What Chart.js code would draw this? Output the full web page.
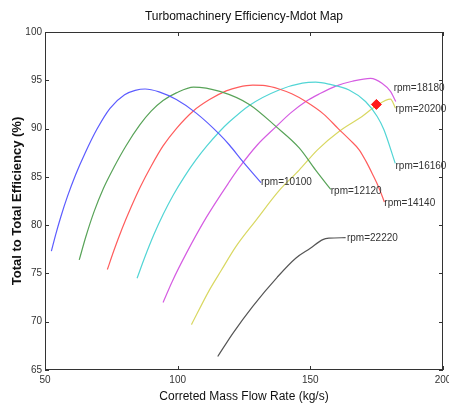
<!DOCTYPE html>
<html>
<head>
<meta charset="utf-8">
<script src="https://cdn.jsdelivr.net/npm/chart.js@4/dist/chart.umd.min.js"></script>
<style>
  html, body { margin: 0; padding: 0; background: #fff; }
  #wrap { width: 449px; height: 407px; }
</style>
</head>
<body>
<div id="wrap"><canvas id="c" width="449" height="407"></canvas></div>
<script>
// ---- data ----
const titleText = 'Turbomachinery Efficiency-Mdot Map';
const xTitle = 'Correted Mass Flow Rate (kg/s)';
const yTitle = 'Total to Total Efficiency (%)';

const xTicks = [50, 100, 150, 200];
const yTicks = [65, 70, 75, 80, 85, 90, 95, 100];

const speedLabels = ['rpm=10100', 'rpm=12120', 'rpm=14140', 'rpm=16160', 'rpm=18180', 'rpm=20200', 'rpm=22220'];

const mdot10100 = [52.4, 54.0, 56.0, 58.5, 61.5, 65.0, 69.5, 74.5, 80.0, 84.0, 87.7, 93.0, 99.5, 107.0, 115.8, 119.5, 124.5, 131.4];
const eff10100  = [77.3, 79.0, 80.9, 83.0, 85.2, 87.4, 89.9, 92.1, 93.5, 93.95, 94.1, 93.8, 93.0, 91.6, 89.4, 88.3, 86.6, 84.4];

const mdot12120 = [62.9, 65.5, 68.5, 72.0, 76.0, 80.5, 85.8, 90.0, 94.5, 99.5, 106.0, 115.9, 127.0, 137.1, 145.8, 152.0, 157.7];
const eff12120  = [76.4, 78.9, 81.4, 83.8, 86.0, 88.2, 90.4, 91.8, 92.9, 93.7, 94.3, 93.85, 92.5, 90.2, 88.0, 85.7, 83.7];

const mdot14140 = [73.5, 76.0, 79.0, 82.5, 86.0, 90.0, 94.5, 99.5, 105.8, 112.0, 118.3, 123.0, 128.3, 133.0, 138.2, 143.0, 148.3, 155.0, 160.5, 165.0, 168.4, 171.0, 173.4, 175.8, 177.9];
const eff14140  = [75.4, 77.4, 79.6, 81.9, 84.0, 86.1, 88.2, 90.0, 91.8, 93.0, 93.9, 94.3, 94.5, 94.45, 94.1, 93.6, 92.8, 91.5, 90.0, 88.8, 87.8, 86.6, 85.3, 83.9, 82.4];

const mdot16160 = [84.7, 87.5, 91.0, 94.5, 98.3, 102.5, 107.0, 111.0, 115.8, 119.5, 127.0, 138.2, 147.0, 152.0, 157.0, 164.6, 170.8, 175.2, 177.7, 182.0];
const eff16160  = [74.5, 76.6, 79.0, 81.1, 83.1, 85.0, 86.8, 88.2, 89.7, 90.7, 92.4, 94.0, 94.7, 94.8, 94.6, 94.0, 92.8, 91.25, 89.9, 86.4];

const mdot18180 = [94.5, 98.0, 103.3, 110.8, 119.5, 123.3, 130.0, 137.1, 142.5, 148.3, 153.5, 159.6, 165.8, 172.7, 177.0, 180.2, 182.2];
const eff18180  = [72.0, 74.2, 77.1, 80.8, 84.5, 86.0, 88.3, 90.2, 91.6, 92.8, 93.6, 94.4, 94.9, 95.2, 94.7, 93.85, 92.8];

const mdot20200 = [105.2, 112.0, 116.4, 122.0, 129.5, 138.3, 145.8, 152.7, 160.8, 169.5, 174.6, 180.2, 182.1];
const eff20200  = [69.7, 73.3, 75.3, 77.8, 80.5, 83.6, 85.7, 87.8, 89.7, 91.25, 92.3, 93.05, 92.1];

const mdot22220 = [115.1, 120.8, 128.3, 137.5, 144.6, 150.0, 154.7, 157.0, 163.3];
const eff22220  = [66.4, 68.8, 71.6, 74.6, 76.6, 77.6, 78.5, 78.65, 78.7];

const markerMdot = [174.9];
const markerEff  = [92.5];

// text anchor positions of the rpm labels, in data units
const labelMdot = [131.4, 157.7, 177.9, 182.1, 181.4, 182.1, 163.8];
const labelEff  = [84.4, 83.55, 82.3, 86.1, 94.2, 91.95, 78.6];

// ---- build ----
const seriesX = [mdot10100, mdot12120, mdot14140, mdot16160, mdot18180, mdot20200, mdot22220];
const seriesY = [eff10100, eff12120, eff14140, eff16160, eff18180, eff20200, eff22220];
const colors = ['#5c5cff', '#58a358', '#ff5c5c', '#52d5d5', '#d55ce2', '#d9d862', '#555555'];

const pairs = (xs, ys) => xs.map((x, i) => ({x: x, y: ys[i]}));

const datasets = seriesX.map((xs, k) => ({
  label: speedLabels[k],
  data: pairs(xs, seriesY[k]),
  showLine: true,
  borderColor: colors[k],
  backgroundColor: colors[k],
  borderWidth: 1.2,
  pointRadius: 0,
  cubicInterpolationMode: 'monotone',
  order: 1
}));
datasets.push({
  label: 'point',
  data: pairs(markerMdot, markerEff),
  showLine: false,
  pointStyle: 'rectRot',
  pointRadius: 5,
  pointBackgroundColor: '#ff1a1a',
  pointBorderColor: '#ff1a1a',
  order: 0
});

const FONT = "'Liberation Sans', Arial, sans-serif";

const decor = {
  id: 'decor',
  afterDatasetsDraw(chart) {
    const {ctx, chartArea: a, scales: {x, y}} = chart;
    ctx.save();
    // box
    ctx.strokeStyle = '#333';
    ctx.lineWidth = 1;
    ctx.strokeRect(Math.round(a.left) + 0.5, Math.round(a.top) + 0.5,
                   Math.round(a.right - a.left) - 1, Math.round(a.bottom - a.top) - 1);
    // inner ticks on all sides
    const tl = 4;
    ctx.beginPath();
    xTicks.forEach(v => {
      const px = Math.round(x.getPixelForValue(v)) + 0.5;
      ctx.moveTo(px, a.bottom); ctx.lineTo(px, a.bottom - tl);
      ctx.moveTo(px, a.top); ctx.lineTo(px, a.top + tl);
    });
    yTicks.forEach(v => {
      const py = Math.round(y.getPixelForValue(v)) + 0.5;
      ctx.moveTo(a.left, py); ctx.lineTo(a.left + tl, py);
      ctx.moveTo(a.right, py); ctx.lineTo(a.right - tl, py);
    });
    ctx.stroke();
    // rpm labels
    ctx.fillStyle = '#333';
    ctx.font = '10px ' + FONT;
    ctx.textAlign = 'left';
    ctx.textBaseline = 'middle';
    speedLabels.forEach((t, i) => {
      ctx.fillText(t, x.getPixelForValue(labelMdot[i]), y.getPixelForValue(labelEff[i]));
    });
    // title
    ctx.fillStyle = '#111';
    ctx.font = '12px ' + FONT;
    ctx.textAlign = 'center';
    ctx.fillText(titleText, (a.left + a.right) / 2, 17);
    ctx.restore();
  }
};

new Chart(document.getElementById('c'), {
  type: 'scatter',
  data: { datasets: datasets },
  options: {
    responsive: false,
    animation: false,
    devicePixelRatio: 1,
    layout: { padding: { left: 0, right: 5, top: 32, bottom: 0 } },
    plugins: { legend: { display: false }, tooltip: { enabled: false }, title: { display: false } },
    scales: {
      x: {
        type: 'linear', min: 50, max: 200,
        afterBuildTicks: s => { s.ticks = xTicks.map(v => ({value: v})); },
        ticks: { color: '#333', font: { size: 10, family: FONT }, padding: 4, maxRotation: 0 },
        grid: { display: false, drawTicks: false },
        border: { display: false },
        title: { display: true, text: xTitle, color: '#111', font: { size: 12, family: FONT }, padding: { top: 0, bottom: 3 } },
        afterFit: s => { s.height = 37; s.paddingLeft = 0; s.paddingRight = 0; }
      },
      y: {
        type: 'linear', min: 65, max: 100,
        afterBuildTicks: s => { s.ticks = yTicks.map(v => ({value: v})); },
        ticks: { color: '#333', font: { size: 10, family: FONT }, padding: 3 },
        grid: { display: false, drawTicks: false },
        border: { display: false },
        title: { display: true, text: yTitle, color: '#111', font: { size: 13, weight: 'bold', family: FONT }, padding: { top: 10, bottom: 0 } },
        afterFit: s => { s.width = 45; s.paddingTop = 0; s.paddingBottom = 0; }
      }
    }
  },
  plugins: [decor]
});
</script>
</body>
</html>
